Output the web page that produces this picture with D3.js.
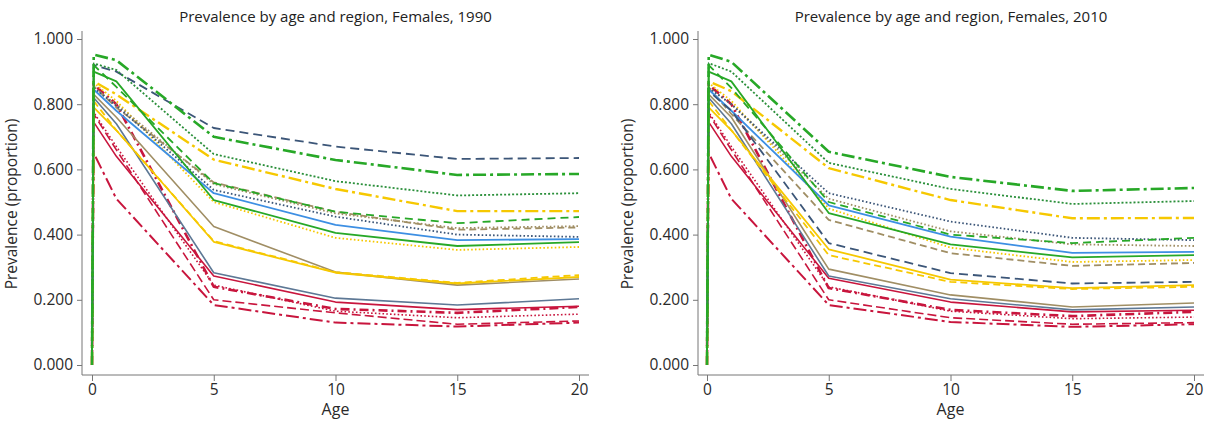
<!DOCTYPE html>
<html>
<head>
<meta charset="utf-8">
<script src="https://cdn.jsdelivr.net/npm/d3@7"></script>
<style>
  body { margin: 0; background: #fff; }
  svg { display: block; font-family: "Open Sans", sans-serif; }
</style>
</head>
<body>
<svg width="1210" height="421"></svg>
<script>
// ages (years) at which prevalence was estimated
var ages = [0, 0.07, 1, 5, 10, 15, 20];
var years = ["1990", "2010"];
var xTicks = [0, 5, 10, 15, 20];
var yTicks = [0, 0.2, 0.4, 0.6, 0.8, 1.0];

// one line per region, drawn in this order
var regions = ["redLongDashDot", "redDash", "redDot", "redDashDot", "redSolid",
  "greyBlueSolid", "oliveSolid", "yellowSolid", "yellowDash", "yellowDot",
  "oliveDash", "oliveDot", "navyDot", "blueSolid", "navyDash",
  "yellowDashDot", "greenDash", "greenDDot", "greenDashDot", "greenSolid"];

var prev1990 = [
  [0, 0.65, 0.51, 0.184, 0.13, 0.118, 0.13],
  [0, 0.77, 0.66, 0.20, 0.16, 0.125, 0.135],
  [0, 0.775, 0.67, 0.245, 0.165, 0.145, 0.156],
  [0, 0.86, 0.80, 0.24, 0.172, 0.16, 0.178],
  [0, 0.745, 0.64, 0.273, 0.193, 0.17, 0.18],
  [0, 0.82, 0.74, 0.283, 0.205, 0.184, 0.203],
  [0, 0.83, 0.76, 0.425, 0.285, 0.245, 0.264],
  [0, 0.79, 0.72, 0.378, 0.283, 0.25, 0.27],
  [0, 0.81, 0.72, 0.38, 0.285, 0.252, 0.276],
  [0, 0.865, 0.81, 0.50, 0.39, 0.353, 0.362],
  [0, 0.855, 0.79, 0.56, 0.47, 0.415, 0.422],
  [0, 0.85, 0.80, 0.555, 0.465, 0.42, 0.426],
  [0, 0.85, 0.795, 0.537, 0.455, 0.40, 0.393],
  [0, 0.845, 0.78, 0.527, 0.43, 0.383, 0.386],
  [0, 0.92, 0.90, 0.727, 0.67, 0.632, 0.635],
  [0, 0.87, 0.83, 0.63, 0.54, 0.472, 0.472],
  [0, 0.92, 0.853, 0.558, 0.47, 0.435, 0.454],
  [0, 0.925, 0.905, 0.647, 0.564, 0.52, 0.527],
  [0, 0.952, 0.935, 0.70, 0.629, 0.583, 0.586],
  [0, 0.90, 0.87, 0.506, 0.405, 0.365, 0.377]
];

var prev2010 = [
  [0, 0.65, 0.51, 0.184, 0.132, 0.117, 0.125],
  [0, 0.77, 0.66, 0.20, 0.145, 0.125, 0.13],
  [0, 0.775, 0.67, 0.24, 0.165, 0.142, 0.147],
  [0, 0.86, 0.80, 0.236, 0.169, 0.15, 0.163],
  [0, 0.745, 0.64, 0.266, 0.193, 0.163, 0.168],
  [0, 0.82, 0.74, 0.273, 0.203, 0.169, 0.178],
  [0, 0.83, 0.76, 0.294, 0.215, 0.178, 0.19],
  [0, 0.79, 0.72, 0.355, 0.262, 0.236, 0.245],
  [0, 0.81, 0.72, 0.337, 0.255, 0.233, 0.24],
  [0, 0.865, 0.81, 0.48, 0.36, 0.316, 0.322],
  [0, 0.85, 0.77, 0.445, 0.343, 0.304, 0.313],
  [0, 0.85, 0.80, 0.51, 0.41, 0.37, 0.365],
  [0, 0.85, 0.80, 0.527, 0.44, 0.39, 0.383],
  [0, 0.845, 0.78, 0.49, 0.394, 0.344, 0.347],
  [0, 0.84, 0.78, 0.374, 0.282, 0.25, 0.255],
  [0, 0.87, 0.84, 0.604, 0.506, 0.45, 0.451],
  [0, 0.92, 0.85, 0.50, 0.40, 0.374, 0.39],
  [0, 0.926, 0.90, 0.62, 0.54, 0.494, 0.503],
  [0, 0.952, 0.93, 0.654, 0.577, 0.534, 0.543],
  [0, 0.90, 0.87, 0.466, 0.37, 0.33, 0.337]
];

// line styles
var red = "#c8153d", yellow = "#f6c800", olive = "#a08e64", green = "#27a827",
    navy = "#3c5678", blue = "#3d8fe3", greyBlue = "#5d7895";
var dash = "7,4", dot = "1.6,2.2", dashDot = "9,4,2,4", longDashDot = "13,4,3,4";
var style = {
  redLongDashDot: {c: red, d: longDashDot, w: 2},
  redDash: {c: red, d: "9,4", w: 1.6},
  redDot: {c: red, d: dot, w: 1.6},
  redDashDot: {c: red, d: dashDot, w: 2.6},
  redSolid: {c: red, d: null, w: 1.6},
  greyBlueSolid: {c: greyBlue, d: null, w: 1.6},
  oliveSolid: {c: olive, d: null, w: 1.6},
  yellowSolid: {c: yellow, d: null, w: 1.8},
  yellowDash: {c: yellow, d: dash, w: 1.8},
  yellowDot: {c: yellow, d: dot, w: 1.8},
  oliveDash: {c: olive, d: dash, w: 1.8},
  oliveDot: {c: olive, d: dot, w: 1.8},
  navyDot: {c: navy, d: dot, w: 1.8},
  blueSolid: {c: blue, d: null, w: 1.8},
  navyDash: {c: navy, d: "9,5", w: 1.8},
  yellowDashDot: {c: yellow, d: longDashDot, w: 2.4},
  greenDash: {c: green, d: "8,5", w: 1.8},
  greenDDot: {c: "#2a8f3a", d: "2,2", w: 1.8},
  greenDashDot: {c: green, d: longDashDot, w: 2.6},
  greenSolid: {c: green, d: null, w: 1.8}
};

var svg = d3.select("svg");
var panels = [
  {year: years[0], values: prev1990, left: 82, x0: 92, x1: 579, axisEnd: 589},
  {year: years[1], values: prev2010, left: 698, x0: 707, x1: 1194, axisEnd: 1204}
];
var plotTop = 39, plotBottom = 365, axisY = 375;

panels.forEach(function(p) {
  var x = d3.scaleLinear().domain([0, 20]).range([p.x0, p.x1]);
  var y = d3.scaleLinear().domain([0, 1]).range([plotBottom, plotTop]);
  var g = svg.append("g");

  var yAxis = g.append("g")
      .attr("transform", `translate(${p.left},0)`)
      .call(d3.axisLeft(y).tickValues(yTicks).tickFormat(d3.format(".3f")).tickSize(5).tickPadding(4));
  var xAxis = g.append("g")
      .attr("transform", `translate(0,${axisY})`)
      .call(d3.axisBottom(x).tickValues(xTicks).tickSize(6).tickPadding(3));

  [yAxis, xAxis].forEach(function(a) {
    a.select(".domain").remove();
    a.selectAll(".tick line").attr("stroke", "#777");
    a.selectAll(".tick text").attr("fill", "#2a2a2a").attr("font-size", 15.5).attr("font-family", "Open Sans");
  });
  g.append("line").attr("x1", p.left).attr("x2", p.left).attr("y1", 31).attr("y2", axisY)
      .attr("stroke", "#777");
  g.append("line").attr("x1", p.left).attr("x2", p.axisEnd).attr("y1", axisY).attr("y2", axisY)
      .attr("stroke", "#777");

  var line = d3.line()
      .x(function(d, i) { return x(ages[i]); })
      .y(function(d) { return y(d); });

  g.append("g").selectAll("path")
    .data(p.values)
    .join("path")
      .attr("fill", "none")
      .attr("stroke", function(d, i) { return style[regions[i]].c; })
      .attr("stroke-width", function(d, i) { return style[regions[i]].w; })
      .attr("stroke-dasharray", function(d, i) { return style[regions[i]].d; })
      .attr("stroke-linejoin", "round")
      .attr("d", line);

  g.append("text")
      .attr("x", (p.left + p.axisEnd) / 2)
      .attr("y", 22)
      .attr("text-anchor", "middle")
      .attr("font-size", 15)
      .attr("fill", "#222")
      .text("Prevalence by age and region, Females, " + p.year);

  g.append("text")
      .attr("x", x(10))
      .attr("y", 415)
      .attr("text-anchor", "middle")
      .attr("font-size", 16)
      .attr("fill", "#2a2a2a")
      .text("Age");

  g.append("text")
      .attr("transform", `translate(${p.left - 65},${(plotTop + plotBottom) / 2 + 2}) rotate(-90)`)
      .attr("text-anchor", "middle")
      .attr("font-size", 15.5)
      .attr("fill", "#2a2a2a")
      .text("Prevalence (proportion)");
});
</script>
</body>
</html>
